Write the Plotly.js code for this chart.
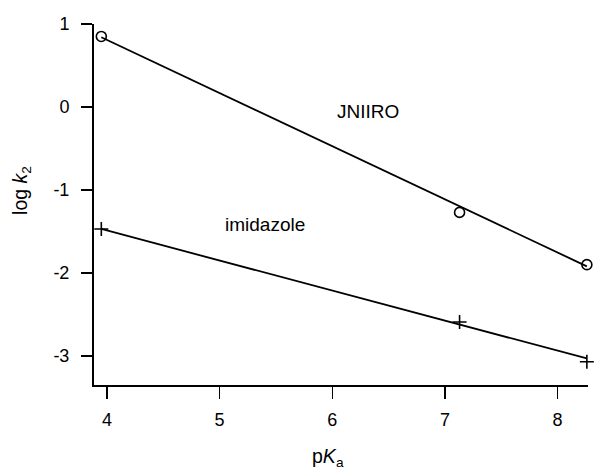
<!DOCTYPE html>
<html>
<head>
<meta charset="utf-8">
<script src="https://cdn.plot.ly/plotly-3.0.1.min.js"></script>
<style>html,body{margin:0;padding:0;background:#fff;}#chart{width:596px;height:473px;}</style>
</head>
<body>
<div id="chart"></div>
<script>
// Data
const pKa = [3.95, 7.13, 8.26];
const logk2_JNIIRO = [0.85, -1.27, -1.90];
const logk2_imidazole = [-1.47, -2.59, -3.07];
// fitted straight lines (endpoints)
const fitX = [3.95, 8.26];
const fitJNIIRO = [0.84, -1.92];
const fitImidazole = [-1.47, -3.03];
const xTicks = [4, 5, 6, 7, 8];
const yTicks = [-3, -2, -1, 0, 1];

const fam = 'Liberation Sans, Arial, Helvetica, sans-serif';
const font = {family: fam, size: 18, color: '#000'};

const traces = [
  {x: fitX, y: fitJNIIRO, mode: 'lines', line: {color: '#000', width: 1.8}, hoverinfo: 'skip', cliponaxis: false},
  {x: fitX, y: fitImidazole, mode: 'lines', line: {color: '#000', width: 1.8}, hoverinfo: 'skip', cliponaxis: false},
  {x: pKa, y: logk2_JNIIRO, mode: 'markers', cliponaxis: false,
   marker: {symbol: 'circle-open', size: 10, color: '#000', line: {width: 1.6, color: '#000'}}},
  {x: pKa, y: logk2_imidazole, mode: 'markers', cliponaxis: false,
   marker: {symbol: 'cross-thin-open', size: 10, color: '#000', line: {width: 1.6, color: '#000'}}}
];

const layout = {
  width: 596, height: 473,
  margin: {l: 94, r: 8, t: 24, b: 88},
  paper_bgcolor: '#fff', plot_bgcolor: '#fff',
  showlegend: false,
  font: font,
  xaxis: {
    range: [3.885, 8.27], tickvals: xTicks, ticktext: xTicks.map(String),
    showgrid: false, zeroline: false, showline: true, linecolor: '#000', linewidth: 2,
    ticks: 'outside', ticklen: 12, tickwidth: 1.5, tickcolor: '#000',
    ticklabelstandoff: 5,
    tickfont: font
  },
  yaxis: {
    range: [-3.35, 1], tickvals: yTicks, ticktext: yTicks.map(String),
    showgrid: false, zeroline: false, showline: true, linecolor: '#000', linewidth: 2,
    ticks: 'outside', ticklen: 11, tickwidth: 1.5, tickcolor: '#000',
    ticklabelstandoff: 8,
    tickfont: font
  },
  annotations: [
    {text: 'JNIIRO', x: 6.32, y: -0.05, xref: 'x', yref: 'y', showarrow: false, font: {family: fam, size: 19, color: '#000'}},
    {text: 'imidazole', x: 5.40, y: -1.41, xref: 'x', yref: 'y', showarrow: false, font: {family: fam, size: 19, color: '#000'}},
    {text: 'log <i>k</i><sub>2</sub>', xref: 'paper', yref: 'paper', x: -0.148, y: 0.54, textangle: -90,
     showarrow: false, xanchor: 'center', yanchor: 'middle', font: {family: fam, size: 19.5, color: '#000'}},
    {text: 'p<i>K</i><sub>a</sub>', xref: 'paper', yref: 'paper', x: 0.474, y: -0.24, showarrow: false,
     xanchor: 'center', yanchor: 'bottom', font: {family: fam, size: 19.5, color: '#000'}}
  ]
};

Plotly.newPlot('chart', traces, layout, {staticPlot: true, displayModeBar: false});
</script>
</body>
</html>
